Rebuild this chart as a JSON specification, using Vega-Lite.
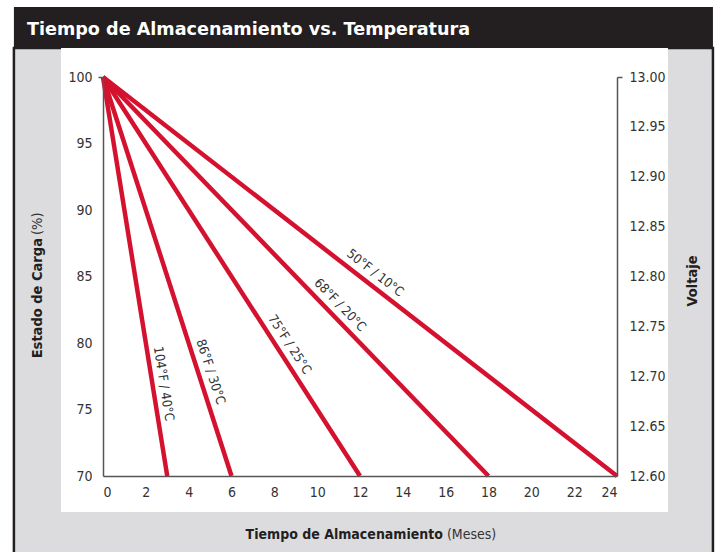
{
  "$schema": "https://vega.github.io/schema/vega-lite/v6.json",
  "width": 514,
  "height": 399,
  "autosize": "none",
  "padding": {"left": 103, "top": 77, "right": 100, "bottom": 76},
  "background": "#ffffff",
  "config": {
    "view": {"stroke": null},
    "font": "DejaVu Sans Condensed"
  },
  "datasets": {
    "curves": [
      {"temp": "104°F / 40°C", "months": 0, "soc": 100, "volt": 13.0},
      {"temp": "104°F / 40°C", "months": 3, "soc": 70, "volt": 12.6},
      {"temp": "86°F / 30°C", "months": 0, "soc": 100, "volt": 13.0},
      {"temp": "86°F / 30°C", "months": 6, "soc": 70, "volt": 12.6},
      {"temp": "75°F / 25°C", "months": 0, "soc": 100, "volt": 13.0},
      {"temp": "75°F / 25°C", "months": 12, "soc": 70, "volt": 12.6},
      {"temp": "68°F / 20°C", "months": 0, "soc": 100, "volt": 13.0},
      {"temp": "68°F / 20°C", "months": 18, "soc": 70, "volt": 12.6},
      {"temp": "50°F / 10°C", "months": 0, "soc": 100, "volt": 13.0},
      {"temp": "50°F / 10°C", "months": 24, "soc": 70, "volt": 12.6}
    ]
  },
  "layer": [
    {
      "data": {"values": [{}]},
      "mark": {"type": "rect", "color": "#dcdcde", "stroke": "#231f20", "strokeWidth": 2.5},
      "encoding": {
        "x": {"datum": -4.16, "scale": {"domain": [0, 24], "nice": false, "zero": false}, "axis": null},
        "x2": {"datum": 28.48},
        "y": {"datum": 102.18, "scale": {"domain": [70, 100], "nice": false, "zero": false}, "axis": null},
        "y2": {"datum": 63.6}
      }
    },
    {
      "data": {"values": [{}]},
      "mark": {"type": "rect", "color": "#231f20"},
      "encoding": {
        "x": {"datum": -4.16, "scale": {"domain": [0, 24], "nice": false, "zero": false}, "axis": null},
        "x2": {"datum": 28.48},
        "y": {"datum": 105.26, "scale": {"domain": [70, 100], "nice": false, "zero": false}, "axis": null},
        "y2": {"datum": 102.18}
      }
    },
    {
      "data": {"values": [{}]},
      "mark": {"type": "rect", "color": "#ffffff"},
      "encoding": {
        "x": {"datum": -1.96, "scale": {"domain": [0, 24], "nice": false, "zero": false}, "axis": null},
        "x2": {"datum": 26.38},
        "y": {"datum": 102.18, "scale": {"domain": [70, 100], "nice": false, "zero": false}, "axis": null},
        "y2": {"datum": 67.29}
      }
    },
    {
      "data": {"name": "curves"},
      "mark": {"type": "line", "color": "#d4112f", "strokeWidth": 4.5, "strokeCap": "butt"},
      "encoding": {
        "x": {
          "field": "months", "type": "quantitative",
          "scale": {"domain": [0, 24], "nice": false, "zero": false},
          "axis": {
            "title": null, "values": [0, 2, 4, 6, 8, 10, 12, 14, 16, 18, 20, 22, 24],
            "labelFontSize": 14, "labelColor": "#333333", "labelFont": "DejaVu Sans Condensed",
            "domainColor": "#555555", "domainWidth": 1.5, "ticks": false, "labelPadding": 9,
            "grid": false, "zindex": 1
          }
        },
        "y": {
          "field": "soc", "type": "quantitative",
          "scale": {"domain": [70, 100], "nice": false, "zero": false},
          "axis": {
            "orient": "left", "title": null, "values": [70, 75, 80, 85, 90, 95, 100],
            "labelFontSize": 14, "labelColor": "#333333", "labelFont": "DejaVu Sans Condensed",
            "domainColor": "#555555", "domainWidth": 1.5, "ticks": true, "tickSize": 5,
            "tickColor": "#555555", "tickWidth": 1.5,
            "tickOpacity": {"condition": {"test": "datum.value == 100", "value": 1}, "value": 0},
            "labelPadding": 6, "grid": false, "zindex": 1
          }
        },
        "detail": {"field": "temp", "type": "nominal"}
      }
    },
    {
      "data": {"values": [{"temp": "104°F / 40°C", "months": 2.32, "soc": 76.8}]},
      "mark": {"type": "text", "angle": 81, "dy": -11, "baseline": "middle", "align": "center", "fontSize": 13, "color": "#333333"},
      "encoding": {
        "x": {"field": "months", "type": "quantitative", "scale": {"domain": [0, 24], "nice": false, "zero": false}, "axis": null},
        "y": {"field": "soc", "type": "quantitative", "scale": {"domain": [70, 100], "nice": false, "zero": false}, "axis": null},
        "text": {"field": "temp"}
      }
    },
    {
      "data": {"values": [{"temp": "86°F / 30°C", "months": 4.49, "soc": 77.55}]},
      "mark": {"type": "text", "angle": 72, "dy": -12, "baseline": "middle", "align": "center", "fontSize": 13, "color": "#333333"},
      "encoding": {
        "x": {"field": "months", "type": "quantitative", "scale": {"domain": [0, 24], "nice": false, "zero": false}, "axis": null},
        "y": {"field": "soc", "type": "quantitative", "scale": {"domain": [70, 100], "nice": false, "zero": false}, "axis": null},
        "text": {"field": "temp"}
      }
    },
    {
      "data": {"values": [{"temp": "75°F / 25°C", "months": 8.24, "soc": 79.4}]},
      "mark": {"type": "text", "angle": 57, "dy": -12, "baseline": "middle", "align": "center", "fontSize": 13, "color": "#333333"},
      "encoding": {
        "x": {"field": "months", "type": "quantitative", "scale": {"domain": [0, 24], "nice": false, "zero": false}, "axis": null},
        "y": {"field": "soc", "type": "quantitative", "scale": {"domain": [70, 100], "nice": false, "zero": false}, "axis": null},
        "text": {"field": "temp"}
      }
    },
    {
      "data": {"values": [{"temp": "68°F / 20°C", "months": 10.66, "soc": 82.23}]},
      "mark": {"type": "text", "angle": 46, "dy": -12, "baseline": "middle", "align": "center", "fontSize": 13, "color": "#333333"},
      "encoding": {
        "x": {"field": "months", "type": "quantitative", "scale": {"domain": [0, 24], "nice": false, "zero": false}, "axis": null},
        "y": {"field": "soc", "type": "quantitative", "scale": {"domain": [70, 100], "nice": false, "zero": false}, "axis": null},
        "text": {"field": "temp"}
      }
    },
    {
      "data": {"values": [{"temp": "50°F / 10°C", "months": 12.36, "soc": 84.55}]},
      "mark": {"type": "text", "angle": 38, "dy": -12, "baseline": "middle", "align": "center", "fontSize": 13, "color": "#333333"},
      "encoding": {
        "x": {"field": "months", "type": "quantitative", "scale": {"domain": [0, 24], "nice": false, "zero": false}, "axis": null},
        "y": {"field": "soc", "type": "quantitative", "scale": {"domain": [70, 100], "nice": false, "zero": false}, "axis": null},
        "text": {"field": "temp"}
      }
    },
    {
      "data": {"values": [{"t": "Tiempo de Almacenamiento vs. Temperatura"}]},
      "mark": {"type": "text", "align": "left", "baseline": "alphabetic", "font": "DejaVu Sans", "fontWeight": "bold", "fontSize": 17.6, "color": "#ffffff"},
      "encoding": {
        "x": {"datum": -3.55, "scale": {"domain": [0, 24], "nice": false, "zero": false}, "axis": null},
        "y": {"datum": 103.16, "scale": {"domain": [70, 100], "nice": false, "zero": false}, "axis": null},
        "text": {"field": "t"}
      }
    },
    {
      "data": {"values": [{"t": "Tiempo de Almacenamiento"}]},
      "mark": {"type": "text", "align": "right", "baseline": "middle", "fontWeight": "bold", "fontSize": 14, "color": "#231f20"},
      "encoding": {
        "x": {"datum": 15.875, "scale": {"domain": [0, 24], "nice": false, "zero": false}, "axis": null},
        "y": {"datum": 65.56, "scale": {"domain": [70, 100], "nice": false, "zero": false}, "axis": null},
        "text": {"field": "t"}
      }
    },
    {
      "data": {"values": [{"t": "(Meses)"}]},
      "mark": {"type": "text", "align": "left", "baseline": "middle", "fontWeight": "normal", "fontSize": 14, "color": "#333333"},
      "encoding": {
        "x": {"datum": 16.06, "scale": {"domain": [0, 24], "nice": false, "zero": false}, "axis": null},
        "y": {"datum": 65.56, "scale": {"domain": [70, 100], "nice": false, "zero": false}, "axis": null},
        "text": {"field": "t"}
      }
    },
    {
      "data": {"values": [{"t": "Estado de Carga"}]},
      "mark": {"type": "text", "angle": 270, "align": "right", "baseline": "middle", "fontWeight": "bold", "fontSize": 14.5, "color": "#231f20"},
      "encoding": {
        "x": {"datum": -3.03, "scale": {"domain": [0, 24], "nice": false, "zero": false}, "axis": null},
        "y": {"datum": 87.89, "scale": {"domain": [70, 100], "nice": false, "zero": false}, "axis": null},
        "text": {"field": "t"}
      }
    },
    {
      "data": {"values": [{"t": "(%)"}]},
      "mark": {"type": "text", "angle": 270, "align": "left", "baseline": "middle", "fontWeight": "normal", "fontSize": 14.5, "color": "#333333"},
      "encoding": {
        "x": {"datum": -3.03, "scale": {"domain": [0, 24], "nice": false, "zero": false}, "axis": null},
        "y": {"datum": 88.12, "scale": {"domain": [70, 100], "nice": false, "zero": false}, "axis": null},
        "text": {"field": "t"}
      }
    },
    {
      "data": {"values": [{"t": "Voltaje"}]},
      "mark": {"type": "text", "angle": 270, "align": "center", "baseline": "middle", "fontWeight": "bold", "fontSize": 14.5, "color": "#231f20"},
      "encoding": {
        "x": {"datum": 27.55, "scale": {"domain": [0, 24], "nice": false, "zero": false}, "axis": null},
        "y": {"datum": 84.66, "scale": {"domain": [70, 100], "nice": false, "zero": false}, "axis": null},
        "text": {"field": "t"}
      }
    },
    {
      "data": {"name": "curves"},
      "mark": {"type": "point", "opacity": 0},
      "encoding": {
        "x": {"field": "months", "type": "quantitative", "scale": {"domain": [0, 24], "nice": false, "zero": false}, "axis": null},
        "y": {
          "field": "volt", "type": "quantitative",
          "scale": {"domain": [12.6, 13.0], "nice": false, "zero": false},
          "axis": {
            "orient": "right", "title": null,
            "values": [12.6, 12.65, 12.7, 12.75, 12.8, 12.85, 12.9, 12.95, 13.0],
            "format": ".2f",
            "labelFontSize": 14, "labelColor": "#333333", "labelFont": "DejaVu Sans Condensed",
            "domainColor": "#555555", "domainWidth": 1.5, "ticks": true, "tickSize": 5,
            "tickColor": "#555555", "tickWidth": 1.5,
            "tickOpacity": {"condition": {"test": "datum.value == 13", "value": 1}, "value": 0},
            "labelPadding": 7, "grid": false, "zindex": 1
          }
        }
      }
    }
  ],
  "resolve": {"scale": {"x": "independent", "y": "independent"}}
}
